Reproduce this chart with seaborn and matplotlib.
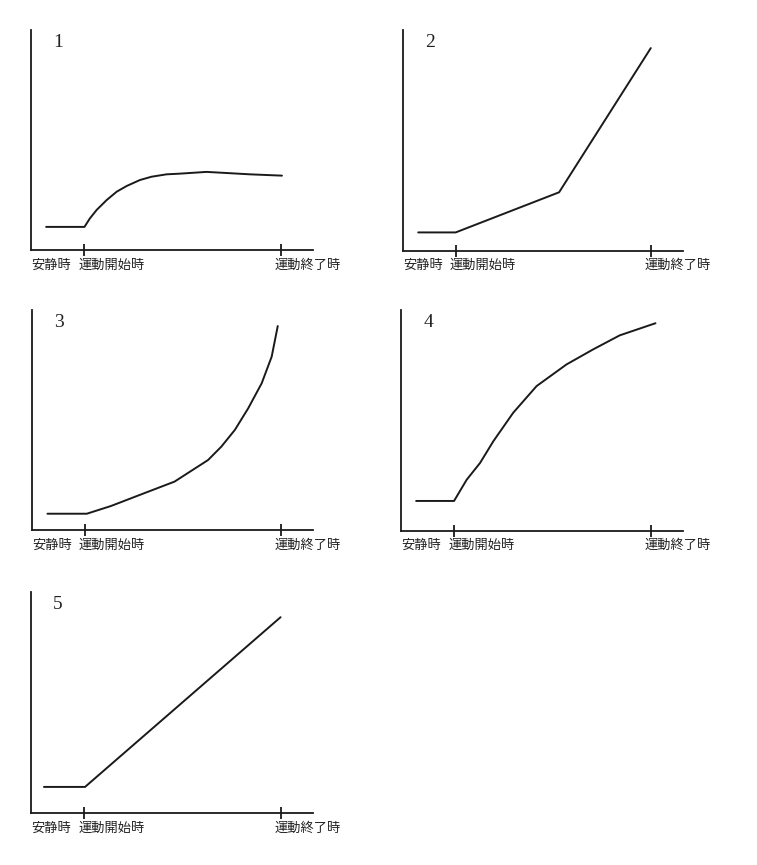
import matplotlib.pyplot as plt
import pandas as pd
import seaborn as sns

# time axis: 0 = exercise start, 10 = exercise end; y in arbitrary units (0-10)
panel_names = ["1", "2", "3", "4", "5"]

p1_x = [-1.93, 0.02, 0.30, 0.64, 1.15, 1.66, 2.17, 2.84, 3.43, 4.20, 4.87, 6.23, 7.24, 8.43, 10.07]
p1_y = [1.05, 1.05, 1.44, 1.82, 2.27, 2.65, 2.91, 3.18, 3.33, 3.44, 3.47, 3.55, 3.50, 3.44, 3.38]

p2_x = [-1.92, 0.0, 5.30, 10.0]
p2_y = [0.82, 0.82, 2.64, 9.18]

p3_x = [-1.91, 0.10, 1.33, 2.79, 4.58, 6.29, 6.97, 7.66, 8.34, 9.03, 9.54, 9.85]
p3_y = [0.74, 0.74, 1.09, 1.59, 2.20, 3.18, 3.79, 4.55, 5.53, 6.67, 7.88, 9.27]

p4_x = [-1.93, 0.0, 0.64, 1.32, 2.00, 3.01, 4.20, 5.72, 7.07, 8.43, 10.25]
p4_y = [1.34, 1.34, 2.30, 3.06, 4.05, 5.34, 6.55, 7.53, 8.21, 8.85, 9.40]

p5_x = [-2.04, 0.05, 10.0]
p5_y = [1.18, 1.18, 8.86]

tick_labels = ["運動開始時", "運動終了時"]
rest_label = "安静時"

sns.set_style("white")
plt.rcParams['font.family'] = ['Noto Sans CJK JP', 'DejaVu Sans']

W, H = 757, 865
fig = plt.figure(figsize=(W / 100, H / 100), dpi=100)

# axes boxes in pixels: left, top, right, bottom
boxes = [(31, 30, 313, 250), (403, 30, 683, 250.5),
         (32, 310, 313, 530), (401, 310, 683, 530.5),
         (31, 592, 313, 813)]

series = [(p1_x, p1_y), (p2_x, p2_y), (p3_x, p3_y), (p4_x, p4_y), (p5_x, p5_y)]

for name, (xs, ys), (l, t, r, b) in zip(panel_names, series, boxes):
    ax = fig.add_axes([l / W, 1 - b / H, (r - l) / W, (b - t) / H])
    df = pd.DataFrame({"time": xs, "value": ys})
    sns.lineplot(data=df, x="time", y="value", sort=False, ax=ax,
                 color="#1a1a1a", linewidth=1.4)
    ax.set_xlim(-2.7, 11.65)
    ax.set_ylim(0, 10)
    sns.despine(ax=ax)
    for side in ["left", "bottom"]:
        ax.spines[side].set_linewidth(1.3)
        ax.spines[side].set_color("#1a1a1a")
    ax.set_xticks([0, 10])
    ax.set_yticks([])
    ax.tick_params(axis="x", bottom=True, direction="inout", length=9, width=1.3,
                   color="#1a1a1a", labelbottom=False)
    ax.set_xlabel("")
    ax.set_ylabel("")

    trans = ax.get_xaxis_transform()
    ax.text(-2.7, -0.068, rest_label, transform=trans, ha="left", va="center",
            fontsize=9.5, color="#222222")
    for pos, lab in zip([0, 10], tick_labels):
        ax.text(pos - 0.3, -0.068, lab, transform=trans, ha="left", va="center",
                fontsize=9.5, color="#222222")
    ax.text(0.096, 0.945, name, transform=ax.transAxes, ha="center", va="center",
            fontsize=14, family="Liberation Serif", color="#222222")

fig.savefig("out.png", dpi=100)
